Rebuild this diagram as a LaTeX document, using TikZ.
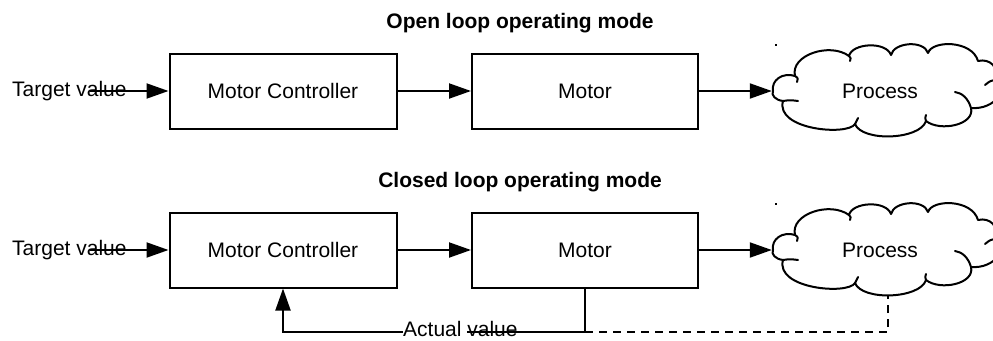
\documentclass[tikz,border=0pt]{standalone}
\usepackage{fontspec}
\setmainfont{Liberation Sans}
\usetikzlibrary{arrows.meta,calc}
\tikzset{
  blockbox/.style={draw, line width=2pt, minimum width=227pt, minimum height=75pt, inner sep=0pt, font=\fontsize{21}{25}\selectfont},
  lbl/.style={inner sep=0pt, font=\fontsize{21}{25}\selectfont},
  ttl/.style={inner sep=0pt, font=\fontsize{21}{25}\selectfont\bfseries},
  arr/.style={line width=2pt, -{Triangle[length=22pt,width=15pt]}},
  conn/.style={line width=2pt},
  dashconn/.style={line width=2pt, dash pattern=on 8pt off 6pt},
  cloudline/.style={line width=2pt, line join=round, line cap=round},
  mycloud/.pic={
    \draw[cloudline, fill=white]
      (773,91) .. controls (771,80) and (783,72) .. (795,76)
      .. controls (790,55) and (830,42) .. (849,56)
      .. controls (852,43) and (886,41) .. (891,55)
      .. controls (894,42) and (924,40) .. (928,53)
      .. controls (932,40) and (972,40) .. (978,61)
      .. controls (990,58) and (1000,68) .. (995,80)
      .. controls (1010,88) and (995,110) .. (971,108)
      .. controls (975,125) and (940,132) .. (926,121)
      .. controls (920,140) and (862,142) .. (855,124)
      .. controls (848,136) and (775,130) .. (783,101)
      .. controls (775,100) and (771,95) .. (773,91) -- cycle;
    \draw[cloudline] (795,76) .. controls (798,78) .. (797,82);
    \draw[cloudline] (849,56) .. controls (851,58) .. (850,61);
    \draw[cloudline] (783,101) .. controls (790,100) .. (798,101);
    \draw[cloudline] (995,80) .. controls (990,81) .. (985,85);
    \draw[cloudline] (971,108) .. controls (968,98) and (962,93) .. (955,92);
    \draw[cloudline] (926,121) .. controls (925,118) .. (926,115);
    \draw[cloudline] (855,124) .. controls (856,121) .. (858,118);
  }
}
\begin{document}
\begin{tikzpicture}[x=1pt,y=-1pt]
\useasboundingbox[fill=white] (0,0) rectangle (993,340);

% ---------- Open loop ----------
\node[ttl] (t1) at (520,23) {Open loop operating mode};
\pic at (0,0) {mycloud};
\fill (775,44) rectangle (777,46);
\node[lbl, minimum width=216pt, minimum height=90pt] (p1) at (880,91) {Process};
\node[blockbox] (c1) at (283,91) {Motor Controller};
\node[blockbox, minimum width=226pt] (m1) at (585,91) {Motor};
\coordinate (s1) at (90,91);
\draw[arr] (s1) -- (c1.west);
\node[lbl, anchor=west] (tv1) at (12,91) {Target value};
\draw[arr] (c1.east) -- (m1.west);
\draw[arr] (m1.east) -- (p1.west);

% ---------- Closed loop ----------
\node[ttl] (t2) at (520,182) {Closed loop operating mode};
\pic at (0,159) {mycloud};
\fill (775,203) rectangle (777,205);
\node[lbl, minimum width=216pt, minimum height=90pt] (p2) at (880,250) {Process};
\node[blockbox] (c2) at (283,250) {Motor Controller};
\node[blockbox, minimum width=226pt] (m2) at (585,250) {Motor};
\coordinate (s2) at (90,250);
\draw[arr] (s2) -- (c2.west);
\node[lbl, anchor=west] (tv2) at (12,250) {Target value};
\draw[arr] (c2.east) -- (m2.west);
\draw[arr] (m2.east) -- (p2.west);

\coordinate (fbR) at (m2.south |- 0,332);
\coordinate (fbL) at (c2.south |- 0,332);
\coordinate (pd) at ($(p2.south)+(8,1)$);
\draw[arr] (m2.south) -- (fbR) -- (fbL) -- (c2.south);
\draw[dashconn] (fbR) -- (fbR -| pd) -- (pd);
\node[lbl, anchor=west] (av) at (403,331) {{\setlength{\fboxsep}{0pt}\colorbox{white}{\strut Actual\ }}value};
\end{tikzpicture}
\end{document}
